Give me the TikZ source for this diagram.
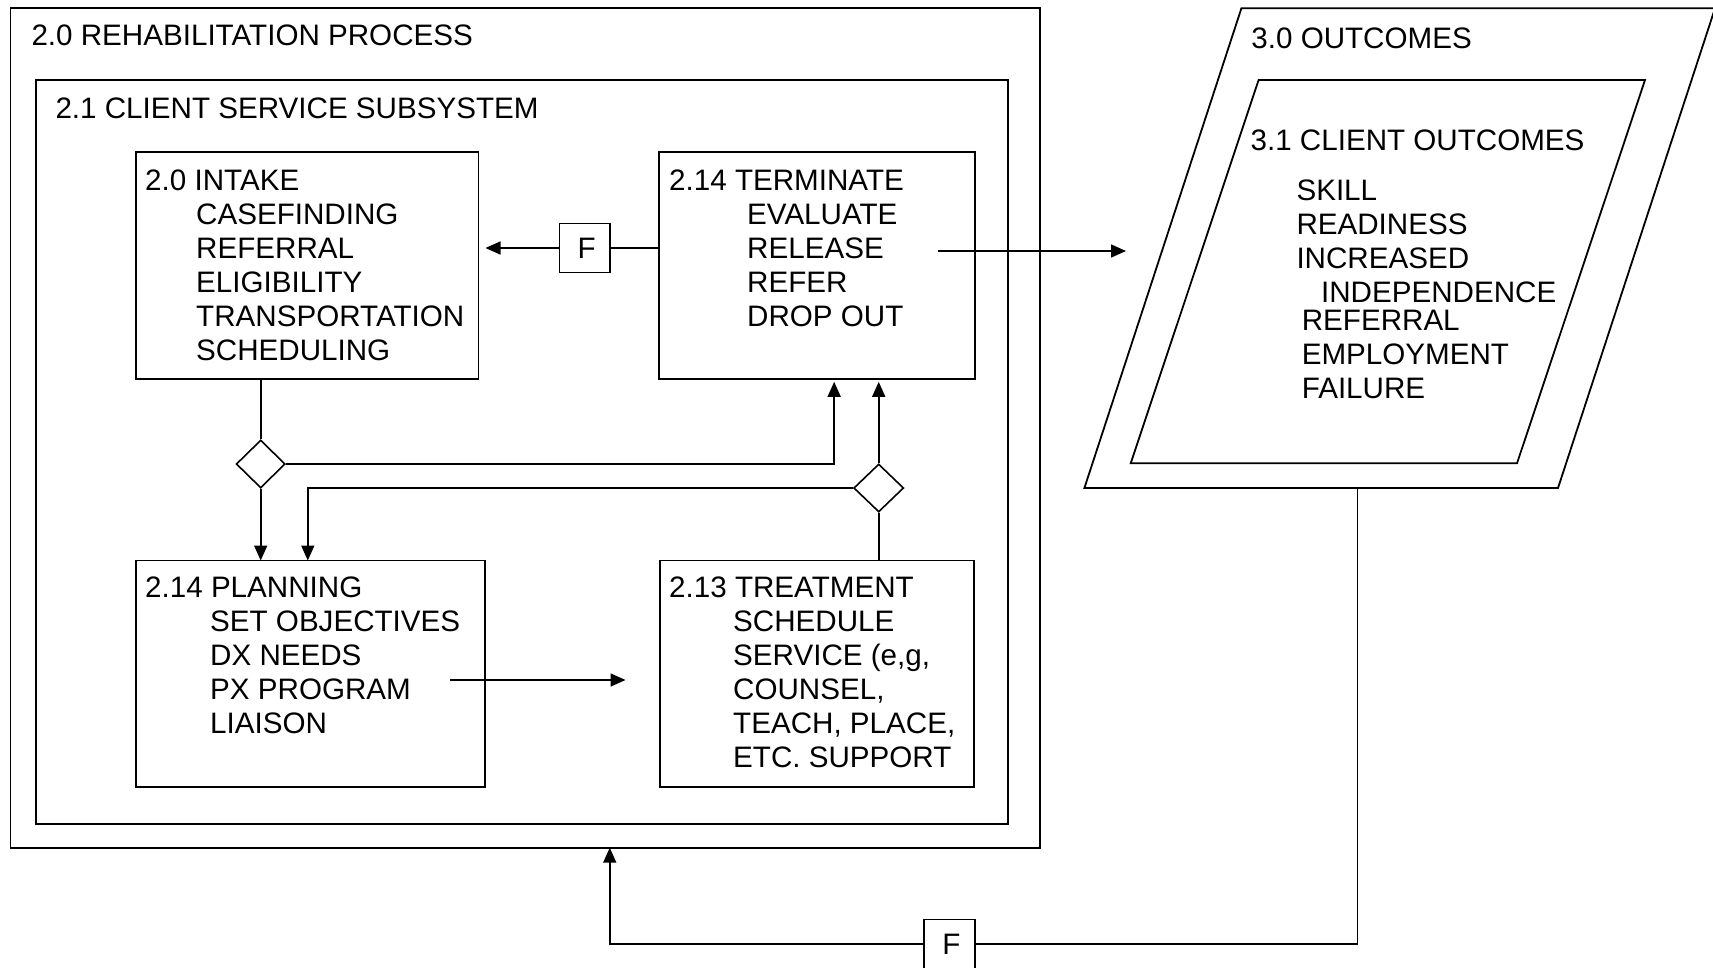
\documentclass[tikz,border=0pt]{standalone}
\usepackage{fontspec}
\setmainfont{Liberation Sans}
\usetikzlibrary{arrows.meta,shapes.geometric}
\tikzset{
  txt/.style={inner sep=0pt, anchor=base west, font=\fontsize{29.6}{34}\selectfont},
  boxn/.style={draw, line width=1.8pt, anchor=north west, inner sep=0pt, outer sep=0pt},
  fbox/.style={draw, line width=1.7pt, inner sep=0pt, minimum width=50.5pt, minimum height=49pt, font=\fontsize{29.6}{34}\selectfont},
  dia/.style={draw, diamond, line width=1.6pt, inner sep=0pt, minimum width=49pt, minimum height=48pt},
  ln/.style={line width=1.6pt},
  arr/.style={line width=1.6pt, -{Triangle[length=15pt,width=13pt]}},
  para/.style={draw, line width=1.8pt, line join=miter}
}
\newcommand{\stk}[1]{\begin{tabular}[t]{@{}l@{}}#1\end{tabular}}
\begin{document}
\begin{tikzpicture}[x=1pt,y=-1pt]
\clip (0,0) rectangle (1713,967);
\fill[white] (0,0) rectangle (1713,967);

% boxes
\node[boxn, minimum width=1029.5pt, minimum height=839.4pt] (outer) at (10.5,8.3) {};
\node[boxn, minimum width=972.2pt, minimum height=744pt] (inner) at (35.8,80) {};
\node[boxn, minimum width=342.8pt, minimum height=227pt] (intake) at (135.7,152) {};
\node[boxn, minimum width=315.7pt, minimum height=226.5pt] (term) at (659.3,152.3) {};
\node[boxn, minimum width=349pt, minimum height=226.2pt] (plan) at (135.6,560.5) {};
\node[boxn, minimum width=314pt, minimum height=226.2pt] (treat) at (659.7,560.5) {};

% titles
\node[txt] (t20) at (31.3,45.5) {2.0 REHABILITATION PROCESS};
\node[txt] (t21) at (55.3,118.3) {2.1 CLIENT SERVICE SUBSYSTEM};

% box texts
\node[txt] (intaket) at (145,190) {\stk{2.0 INTAKE\\
 \hspace*{51pt}CASEFINDING\\
 \hspace*{51pt}REFERRAL\\
 \hspace*{51pt}ELIGIBILITY\\
 \hspace*{51pt}TRANSPORTATION\\
 \hspace*{51pt}SCHEDULING}};
\node[txt] (termt) at (669,190) {\stk{2.14 TERMINATE\\
 \hspace*{78pt}EVALUATE\\
 \hspace*{78pt}RELEASE\\
 \hspace*{78pt}REFER\\
 \hspace*{78pt}DROP OUT}};
\node[txt] (plant) at (145,597.3) {\stk{2.14 PLANNING\\
 \hspace*{65pt}SET OBJECTIVES\\
 \hspace*{65pt}DX NEEDS\\
 \hspace*{65pt}PX PROGRAM\\
 \hspace*{65pt}LIAISON}};
\node[txt] (treatt) at (669,597.3) {\stk{2.13 TREATMENT\\
 \hspace*{64pt}SCHEDULE\\
 \hspace*{64pt}SERVICE (e,g,\\
 \hspace*{64pt}COUNSEL,\\
 \hspace*{64pt}TEACH, PLACE,\\
 \hspace*{64pt}ETC. SUPPORT}};

% outcomes parallelograms
\draw[para] (1241.4,8.3) -- (1715,8.3) -- (1558,488) -- (1084.4,488) -- cycle;
\draw[para] (1258.6,80) -- (1645,80) -- (1517,463.3) -- (1130.7,463.3) -- cycle;
\node[txt] (t30) at (1251.2,48.3) {3.0 OUTCOMES};
\node[txt] (t31) at (1250.4,150) {3.1 CLIENT OUTCOMES};
\node[txt] (oc1) at (1296.3,200) {\stk{SKILL\\ READINESS\\ INCREASED\\ \hspace*{24.6pt}INDEPENDENCE}};
\node[txt] (oc2) at (1301.6,330) {\stk{REFERRAL\\ EMPLOYMENT\\ FAILURE}};

% F boxes and diamonds
\node[fbox] (F1) at (584.7,248) {\hspace*{4pt}F};
\node[fbox] (F2) at (949.5,944) {\hspace*{4pt}F};
\node[dia] (D1) at (260.7,464) {};
\node[dia, minimum width=50pt] (D2) at (878.7,488) {};

% connectors
\draw[arr, shorten >=7pt] (F1.west) -- (F1.west -| intake.east);
\draw[ln] (F1.east) -- (F1.east -| term.west);
\coordinate (tout) at (938.3,251);
\coordinate (oin) at (1126,251);
\draw[arr] (tout) -- (oin);
\draw[ln] (intake.south -| D1.north) -- (D1.north);
\draw[arr] (D1.south) -- (D1.south |- plan.north);
\draw[arr, shorten >=3pt] (D1.east) -| ([xshift=17pt]term.south);
\draw[arr, shorten >=3pt] (D2.north) -- (D2.north |- term.south);
\draw[arr] (D2.west) -| ([xshift=-2.3pt]plan.north);
\draw[ln] (treat.north -| D2.south) -- (D2.south);
\coordinate (pout) at (450,680);
\coordinate (tin) at (625.5,680);
\draw[arr] (pout) -- (tin);
\coordinate (obot) at (1357.5,488);
\draw[ln] (obot) |- (F2.east);
\draw[arr] (F2.west) -| ([xshift=84.5pt]outer.south);
\end{tikzpicture}
\end{document}
